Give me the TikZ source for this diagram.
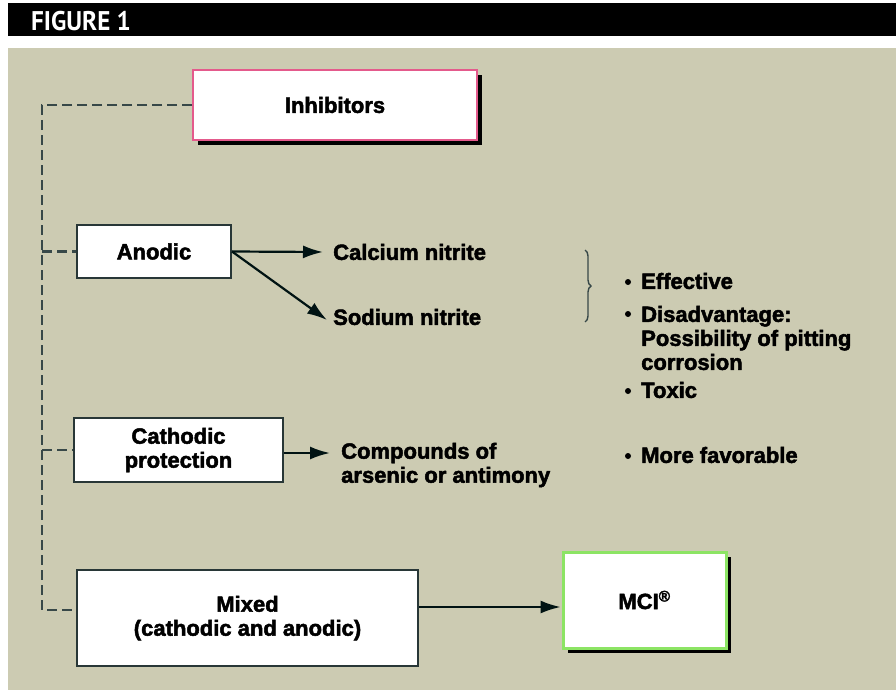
\documentclass[tikz,border=0pt]{standalone}
\usepackage{fontspec}
\setmainfont{Liberation Sans}[BoldFeatures={FakeBold=2.2}]
\newfontfamily\titlefont{PT Sans}[FakeStretch=0.93,BoldFeatures={FakeStretch=0.93}]
\usetikzlibrary{arrows.meta,shadows,decorations.pathreplacing,calc}
\definecolor{bgbeige}{RGB}{204,203,178}
\definecolor{boxline}{RGB}{40,55,55}
\definecolor{dashcol}{RGB}{55,72,72}
\definecolor{pinkline}{RGB}{228,90,140}
\definecolor{greenline}{RGB}{140,228,100}
\begin{document}
\begin{tikzpicture}[x=1pt,y=-1pt,
  box/.style={draw=boxline,line width=2pt,fill=white,font=\fontsize{22}{24}\selectfont\bfseries,align=center,inner sep=0pt},
  lbl/.style={font=\fontsize{22}{24}\selectfont\bfseries,align=left,inner sep=0pt,anchor=west},
  dot/.style={circle,fill=black,inner sep=0pt,minimum size=6pt},
  dashline/.style={draw=dashcol,line width=2.2pt,dash pattern=on 10pt off 5pt},
  arr/.style={draw=black!85!teal,line width=2.2pt,-{Latex[length=20pt,width=13pt]}},
  shadowed/.style={drop shadow={shadow xshift=5pt,shadow yshift=-5pt,opacity=1,fill=black}}]
\useasboundingbox (0,0) rectangle (896,690);
\fill[white] (0,0) rectangle (896,690);
\fill[black] (8,3) rectangle (896,36);
\fill[bgbeige] (8,48) rectangle (896,690);
\node[anchor=west,text=white,font=\titlefont\fontsize{27}{27}\selectfont\bfseries,inner sep=0pt] (title) at (31,21) {FIGURE 1};

\node[box,shadowed,draw=pinkline,minimum width=284pt,minimum height=70pt] (inh) at (335,105) {Inhibitors};
\node[box,minimum width=154pt,minimum height=53pt] (anod) at (154,251.5) {Anodic};
\node[box,minimum width=209pt,minimum height=64pt] (cath) at (178.5,450) {Cathodic\\protection};
\node[box,minimum width=341pt,minimum height=96pt] (mixed) at (247.5,618) {Mixed\\(cathodic and anodic)};
\node[box,shadowed,draw=greenline,line width=3pt,minimum width=163pt,minimum height=96pt] (mci) at (644.5,600) {MCI\textsuperscript{\textregistered}};

\node[lbl] (cal) at (333,252) {Calcium nitrite};
\node[lbl] (sod) at (333,317) {Sodium nitrite};
\node[lbl] (comp) at (341,465) {Compounds of\\arsenic or antimony};

\draw[arr] (anod.east) -- ([xshift=-10pt]cal.west);
\draw[arr] (anod.east) -- ([xshift=-6pt,yshift=-3pt]sod.west);
\draw[arr] ([yshift=-3pt]cath.east) -- ([shift={(-11,-12)}]comp.west);
\draw[arr,line width=1.8pt] ([yshift=11pt]mixed.east) -- ([yshift=11pt,xshift=-1pt]mixed.east -| mci.west);

\coordinate (spine) at (42,0);
\coordinate (mw) at ($(mixed.west)+(0,-8)$);
\draw[dashline] (inh.west) -- (spine |- inh.west) -- (spine |- mw) -- (mw);
\draw[dashline] (spine |- anod.west) -- (anod.west);
\draw[dashline] (spine |- cath.west) -- (cath.west);

\draw[dashcol,line width=1.4pt,decorate,decoration={brace,amplitude=6pt}] (585,250) -- (585,322);

\node[dot] (b1) at (628,282) {};
\node[lbl] (t1) at (641,281) {Effective};
\node[dot] (b2) at (628,314) {};
\node[lbl] (t2) at (641,338) {Disadvantage:\\Possibility of pitting\\corrosion};
\node[dot] (b3) at (628,391) {};
\node[lbl] (t3) at (641,390) {Toxic};
\node[dot] (b4) at (628,456) {};
\node[lbl] (t4) at (641,455) {More favorable};
\end{tikzpicture}
\end{document}
